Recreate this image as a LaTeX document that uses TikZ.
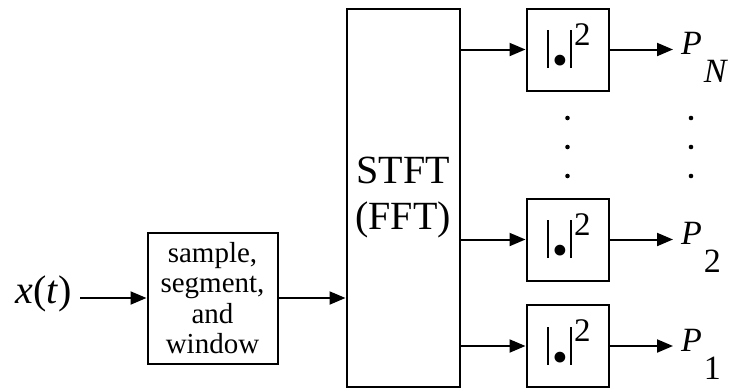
\documentclass[tikz,border=0pt]{standalone}
\usepackage{fontspec}
\setmainfont{Liberation Serif}
\usetikzlibrary{arrows.meta}
\begin{document}
\begin{tikzpicture}[x=1pt,y=-1pt,
  box/.style={draw, line width=2pt, inner sep=0pt, align=center},
  arr/.style={line width=2pt, -{Triangle[length=16pt,width=13pt]}},
  dotc/.style={fill=black, circle, inner sep=0pt, minimum size=4.6pt},
  sqlabel/.style={font=\fontsize{33}{36}\selectfont},
  outlab/.style={font=\fontsize{34}{38}\selectfont, inner xsep=8pt, inner ysep=0pt, anchor=base west}
]
\useasboundingbox[fill=white] (0,0) rectangle (729,389);
\newcommand{\sqtext}{\hspace{2.7pt}\rule[-23pt]{1.6pt}{38pt}\hspace{6.2pt}\makebox[10pt][c]{\raisebox{-30.5pt}{\fontsize{45}{45}\selectfont •}}\hspace{5.2pt}\rule[-23pt]{1.6pt}{38pt}\hspace{2.2pt}2}
% blocks
\node[box, minimum width=130pt, minimum height=131pt, font=\fontsize{29}{30.5}\selectfont] (samp) at (212.5,298) {sample,\\segment,\\and\\window};
\node[box, minimum width=113pt, minimum height=378pt, font=\fontsize{40}{46}\selectfont] (stft) at (403,197.5) {STFT\\(FFT)};
\node[box, minimum width=82pt, minimum height=82pt, sqlabel] (sqN) at (567.5,49.5) {\sqtext};
\node[box, minimum width=82pt, minimum height=82pt, sqlabel] (sq2) at (567.5,239.5) {\sqtext};
\node[box, minimum width=82pt, minimum height=82pt, sqlabel] (sq1) at (567.5,346) {\sqtext};
% input
\node[font=\fontsize{40}{44}\selectfont, inner xsep=8pt, inner ysep=0pt, anchor=base east] (xt) at (80,303) {\textit{x}(\textit{t})};
% outputs
\node[outlab] (PN) at (673,54.5) {\textit{P}\hspace{2pt}\raisebox{-28pt}{\textit{N}}};
\node[outlab] (P2) at (673,244) {\textit{P}\hspace{2pt}\raisebox{-28pt}{2}};
\node[outlab] (P1) at (673,351.5) {\textit{P}\hspace{2pt}\raisebox{-28pt}{1}};
% connectors
\draw[arr] (xt.east |- samp.west) -- (samp.west);
\draw[arr] (samp.east) -- (stft.west |- samp.east);
\draw[arr] (stft.east |- sqN.west) -- (sqN.west);
\draw[arr] (stft.east |- sq2.west) -- (sq2.west);
\draw[arr] (stft.east |- sq1.west) -- (sq1.west);
\draw[arr] (sqN.east) -- (PN.west |- sqN.east);
\draw[arr] (sq2.east) -- (P2.west |- sq2.east);
\draw[arr] (sq1.east) -- (P1.west |- sq1.east);
% vertical ellipses
\foreach \yy in {118,147,176}{
  \node[dotc] at (567.5,\yy) {};
  \node[dotc] at (691,\yy) {};
}
\end{tikzpicture}
\end{document}
